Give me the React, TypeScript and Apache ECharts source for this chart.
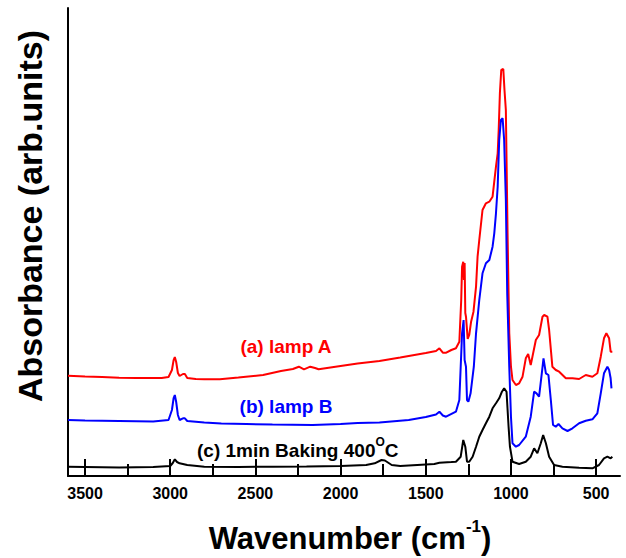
import React, { useEffect, useRef } from "react";
import * as echarts from "echarts";

// Wavenumber (cm-1) and absorbance (arb. units)
const WN_A = [3600, 3500, 3400, 3300, 3200, 3100, 3050, 3010, 2990, 2980, 2973, 2965, 2955, 2945, 2925, 2914, 2900, 2850, 2800, 2709, 2600, 2455, 2350, 2280, 2245, 2215, 2178, 2150, 2129, 2000, 1900, 1772, 1650, 1500, 1440, 1420, 1400, 1380, 1350, 1323, 1303, 1292, 1287, 1280, 1276, 1272, 1268, 1264, 1254, 1245, 1234, 1220, 1205, 1196, 1186, 1167, 1147, 1127, 1108, 1098, 1088, 1078, 1072, 1065, 1057, 1045, 1038, 1030, 1020, 1010, 1000, 991, 971, 952, 932, 913, 899, 884, 874, 854, 835, 815, 805, 786, 776, 757, 737, 717, 678, 639, 600, 561, 522, 493, 473, 454, 440, 424, 415, 405];
const ABS_A = [1.003, 0.995, 0.99, 0.983, 0.98, 0.98, 0.98, 0.99, 1.06, 1.16, 1.19, 1.14, 1.03, 1.0, 1.02, 1.02, 0.98, 0.97, 0.967, 0.967, 0.985, 1.01, 1.05, 1.07, 1.093, 1.067, 1.093, 1.08, 1.067, 1.1, 1.125, 1.15, 1.185, 1.23, 1.25, 1.277, 1.233, 1.233, 1.26, 1.277, 1.343, 1.76, 2.093, 2.143, 1.96, 2.13, 1.63, 1.593, 1.37, 1.41, 1.543, 1.643, 1.893, 2.193, 2.36, 2.66, 2.727, 2.743, 2.793, 2.943, 3.093, 3.227, 3.46, 3.827, 4.06, 4.07, 3.86, 3.66, 2.43, 1.43, 1.093, 0.96, 0.91, 0.927, 0.993, 1.177, 1.22, 1.11, 1.193, 1.36, 1.41, 1.593, 1.61, 1.593, 1.46, 1.093, 1.06, 1.043, 0.977, 0.977, 0.97, 1.01, 0.993, 1.027, 1.193, 1.377, 1.427, 1.377, 1.243, 1.243];

const WN_B = [3600, 3500, 3300, 3100, 3010, 2990, 2980, 2973, 2965, 2955, 2945, 2925, 2914, 2900, 2800, 2700, 2553, 2400, 2164, 2000, 1900, 1772, 1600, 1500, 1440, 1420, 1400, 1381, 1323, 1303, 1287, 1278, 1272, 1264, 1258, 1250, 1237, 1218, 1205, 1186, 1167, 1147, 1127, 1108, 1098, 1088, 1078, 1069, 1059, 1049, 1040, 1030, 1022, 1010, 1000, 991, 971, 952, 913, 884, 864, 850, 835, 819, 809, 795, 780, 766, 753, 737, 721, 698, 668, 639, 600, 561, 522, 493, 473, 454, 434, 424, 415, 410];
const ABS_B = [0.56, 0.555, 0.55, 0.545, 0.56, 0.66, 0.78, 0.81, 0.74, 0.61, 0.56, 0.577, 0.577, 0.55, 0.535, 0.525, 0.52, 0.515, 0.51, 0.52, 0.53, 0.535, 0.56, 0.59, 0.615, 0.643, 0.605, 0.593, 0.643, 0.76, 1.427, 1.56, 1.16, 1.093, 0.76, 0.743, 0.827, 1.093, 1.427, 1.76, 2.027, 2.127, 2.16, 2.293, 2.427, 2.627, 2.893, 3.36, 3.56, 3.577, 3.36, 2.76, 1.827, 1.093, 0.593, 0.327, 0.293, 0.31, 0.393, 0.593, 0.843, 0.827, 0.793, 1.027, 1.177, 1.027, 1.01, 0.76, 0.51, 0.493, 0.52, 0.477, 0.45, 0.477, 0.527, 0.553, 0.567, 0.627, 0.827, 1.027, 1.093, 1.06, 0.977, 0.877];

const WN_C = [3600, 3500, 3300, 3100, 3000, 2985, 2973, 2960, 2945, 2900, 2800, 2600, 2400, 2200, 2000, 1850, 1800, 1760, 1740, 1700, 1650, 1550, 1450, 1420, 1350, 1323, 1295, 1280, 1268, 1258, 1245, 1225, 1205, 1186, 1167, 1147, 1127, 1108, 1088, 1069, 1053, 1040, 1026, 1014, 1006, 991, 952, 913, 884, 864, 845, 825, 811, 795, 776, 747, 698, 600, 522, 483, 454, 434, 415, 405];
const ABS_C = [0.093, 0.09, 0.085, 0.09, 0.1, 0.13, 0.167, 0.14, 0.127, 0.11, 0.093, 0.09, 0.093, 0.095, 0.1, 0.11, 0.127, 0.16, 0.155, 0.11, 0.1, 0.11, 0.12, 0.133, 0.14, 0.143, 0.193, 0.36, 0.293, 0.143, 0.143, 0.193, 0.293, 0.393, 0.46, 0.527, 0.593, 0.677, 0.727, 0.777, 0.843, 0.877, 0.843, 0.493, 0.293, 0.143, 0.12, 0.143, 0.193, 0.277, 0.227, 0.327, 0.41, 0.327, 0.193, 0.11, 0.093, 0.083, 0.077, 0.11, 0.177, 0.193, 0.177, 0.193];

const MAJOR_TICKS = [500, 1000, 1500, 2000, 2500, 3000, 3500];
const MINOR_TICKS = [750, 1250, 1750, 2250, 2750, 3250];

const FONT = "'Liberation Sans', Arial, Helvetica, sans-serif";

export default function App() {
  const ref = useRef<HTMLDivElement>(null);
  useEffect(() => {
    if (!ref.current) return;
    const chart = echarts.init(ref.current, null, { renderer: "svg" });
    const zip = (w: number[], a: number[]) => w.map((x, i) => [x, a[i]]);
    const tickSeries = (name: string, vals: number[], h: number) => ({
      type: "line",
      name,
      data: [],
      silent: true,
      z: 5,
      markLine: {
        silent: true,
        symbol: "none",
        label: { show: false },
        lineStyle: { color: "#000", width: 2, type: "solid" },
        data: vals.map((v) => [{ coord: [v, 0] }, { coord: [v, h] }]),
      },
    });
    chart.setOption({
      animation: false,
      backgroundColor: "#fff",
      grid: { left: 68, right: 6, top: 8, bottom: 82 },
      xAxis: {
        type: "value",
        min: 360,
        max: 3600,
        inverse: true,
        splitLine: { show: false },
        axisLine: { show: true, lineStyle: { color: "#000", width: 2 } },
        axisTick: { show: false },
        axisLabel: {
          customValues: MAJOR_TICKS,
          formatter: (v: number) => String(v),
          color: "#000",
          fontSize: 16,
          fontWeight: "bold",
          fontFamily: FONT,
          margin: 9,
        },
      },
      yAxis: {
        type: "value",
        min: 0,
        max: 4.68,
        axisLine: { show: true, lineStyle: { color: "#000", width: 2 } },
        axisTick: { show: false },
        axisLabel: { show: false },
        splitLine: { show: false },
      },
      series: [
        ...[
          { name: "(a) lamp A", data: zip(WN_A, ABS_A), color: "#ff0000" },
          { name: "(b) lamp B", data: zip(WN_B, ABS_B), color: "#0000ff" },
          { name: "(c) 1min Baking 400°C", data: zip(WN_C, ABS_C), color: "#000000" },
        ].map((s) => ({
          type: "line",
          name: s.name,
          data: s.data,
          showSymbol: false,
          symbol: "none",
          lineStyle: { color: s.color, width: 2 },
          itemStyle: { color: s.color },
        })),
        tickSeries("major ticks", MAJOR_TICKS, 0.17),
        tickSeries("minor ticks", MINOR_TICKS, 0.12),
      ],
      graphic: [
        {
          type: "text",
          x: 286,
          y: 346,
          style: {
            text: "(a) lamp A",
            fill: "#ff0000",
            font: `bold 19px ${FONT}`,
            textAlign: "center",
            textVerticalAlign: "middle",
          },
        },
        {
          type: "text",
          x: 286,
          y: 406,
          style: {
            text: "(b) lamp B",
            fill: "#0000ff",
            font: `bold 19px ${FONT}`,
            textAlign: "center",
            textVerticalAlign: "middle",
          },
        },
        {
          type: "text",
          x: 197,
          y: 448,
          style: {
            text: "{m|(c) 1min Baking 400}{s|O}{m|C}",
            textAlign: "left",
            textVerticalAlign: "middle",
            rich: {
              m: { font: `bold 19px ${FONT}`, fill: "#000", lineHeight: 24, verticalAlign: "bottom" },
              s: { font: `bold 12px ${FONT}`, fill: "#000", lineHeight: 24, verticalAlign: "top" },
            },
          },
        },
        {
          type: "text",
          x: 350,
          y: 536,
          style: {
            text: "{m|Wavenumber (cm}{s|-1}{m|)}",
            textAlign: "center",
            textVerticalAlign: "middle",
            rich: {
              m: { font: `bold 31px ${FONT}`, fill: "#000", lineHeight: 36, verticalAlign: "bottom" },
              s: { font: `bold 17px ${FONT}`, fill: "#000", lineHeight: 36, verticalAlign: "top" },
            },
          },
        },
        {
          type: "text",
          x: 30,
          y: 216,
          rotation: Math.PI / 2,
          style: {
            text: "Absorbance (arb.units)",
            fill: "#000",
            font: `bold 34px ${FONT}`,
            textAlign: "center",
            textVerticalAlign: "middle",
          },
        },
      ],
    });
    return () => chart.dispose();
  }, []);
  return <div ref={ref} style={{ width: 626, height: 558, position: "absolute", left: 0, top: 0 }} />;
}
